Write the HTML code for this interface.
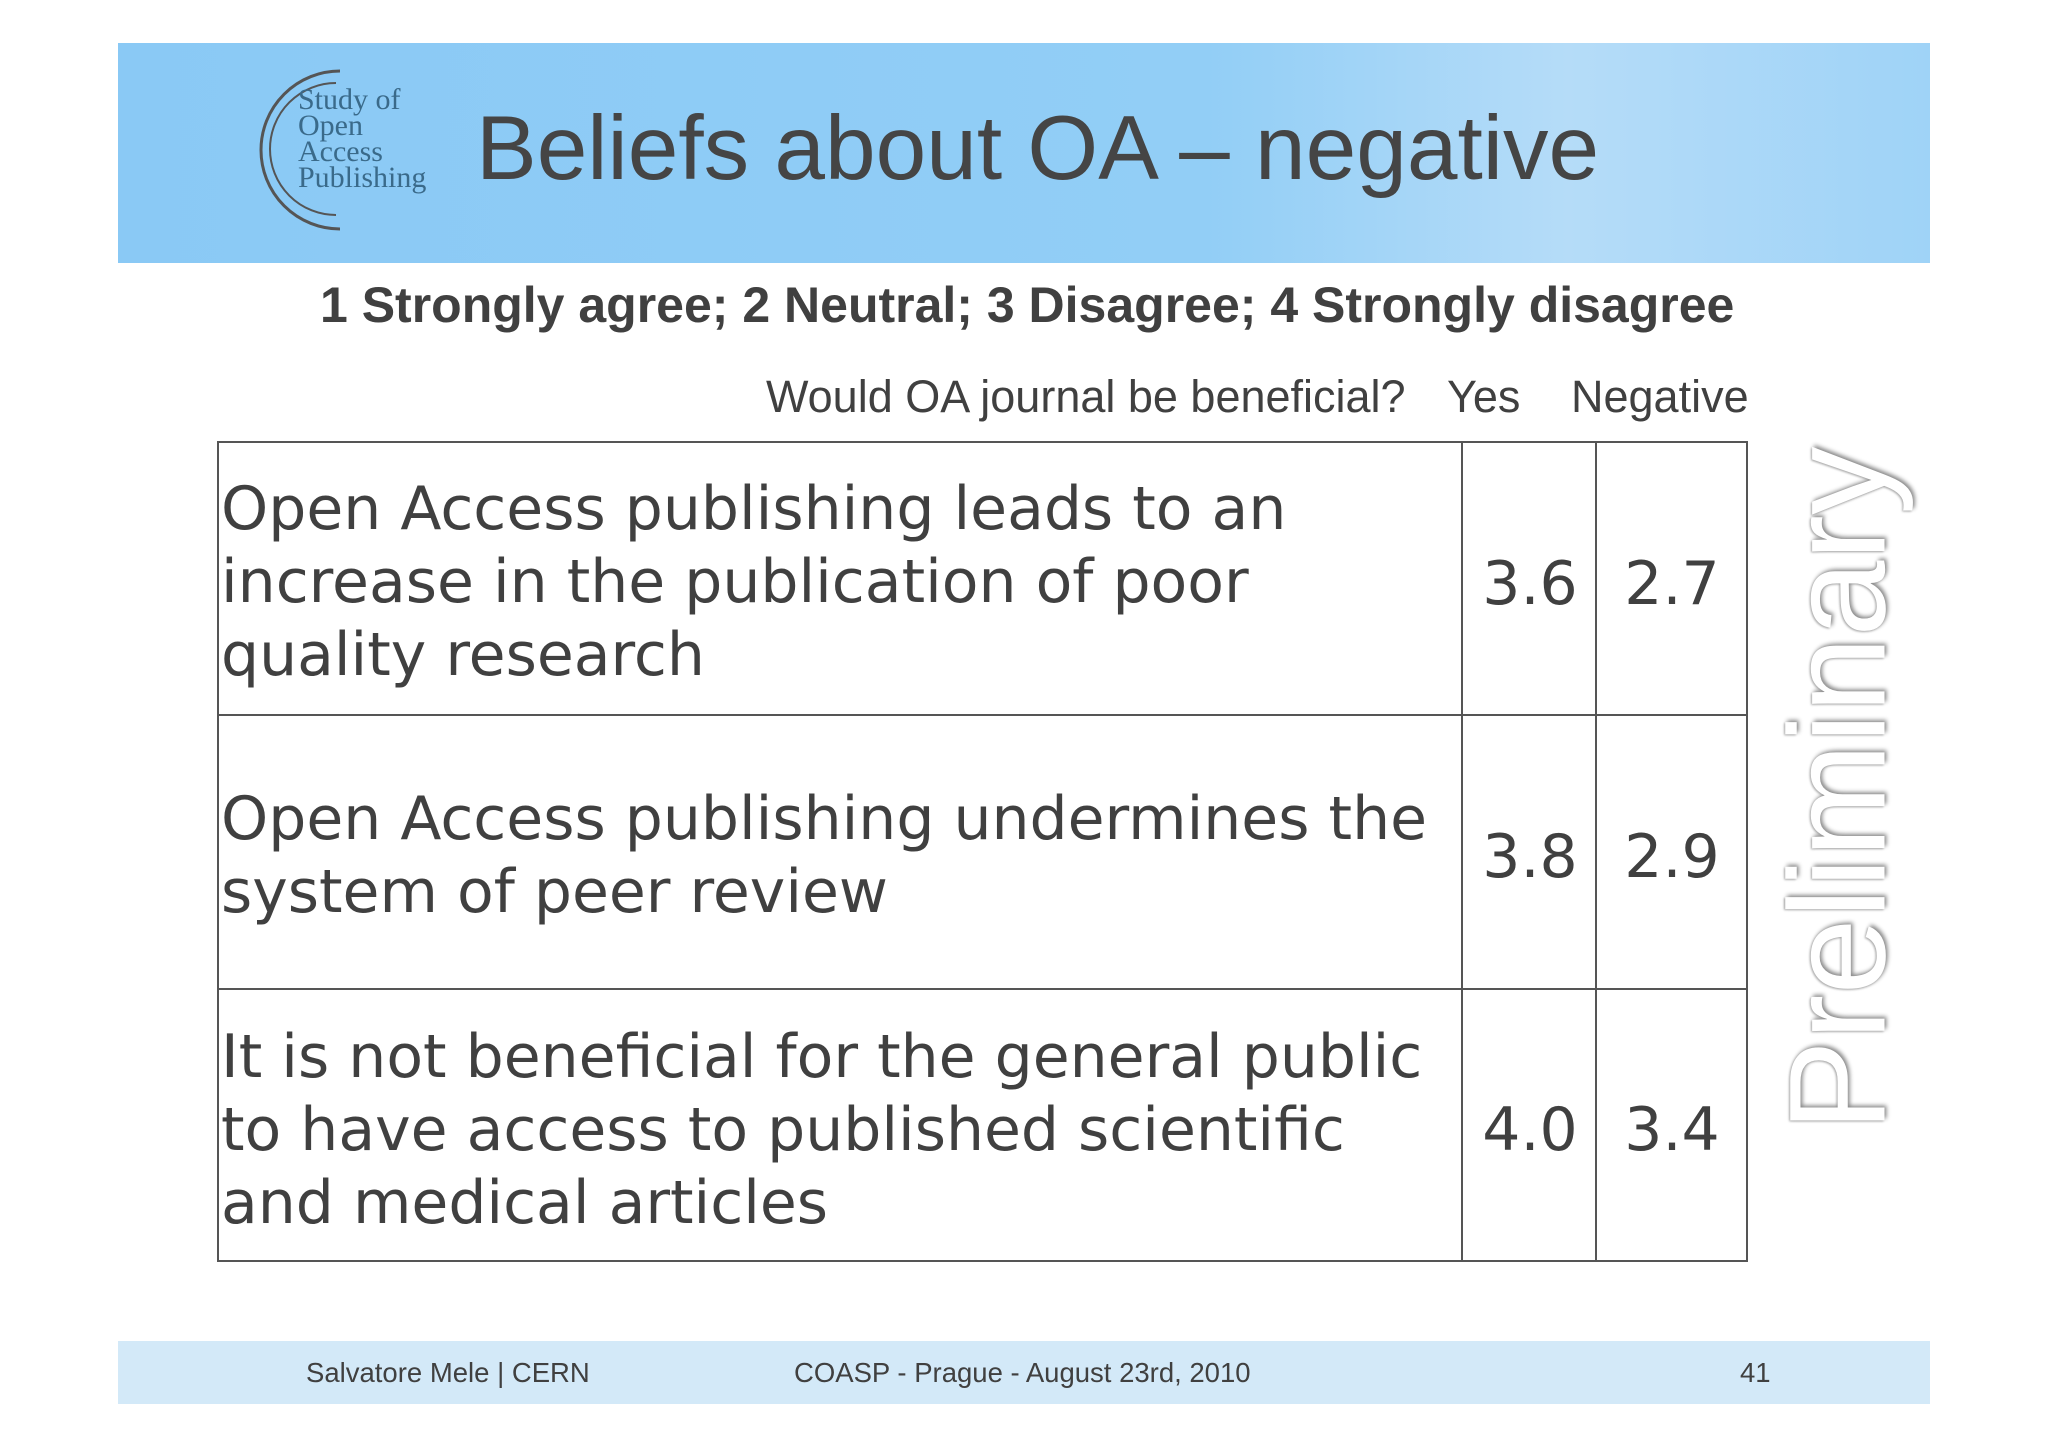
<!DOCTYPE html>
<html><head><meta charset="utf-8"><style>
body{margin:0;width:2048px;height:1447px;background:#fff;position:relative;overflow:hidden;font-family:"Liberation Sans",sans-serif;color:#404040}
div,span{position:absolute}
.cell{font-family:"DejaVu Sans",sans-serif;font-size:60px;line-height:73px;color:#404040;left:221px;white-space:nowrap}
.num{font-family:"DejaVu Sans",sans-serif;font-size:60px;color:#404040;transform:translate(-50%,-50%)}
.ln{background:#555}
</style></head><body>
<div style="left:118px;top:43px;width:1812px;height:220px;background:linear-gradient(90deg,#8ac9f5 0%,#92cef6 60%,#b5dcf8 80%,#9fd3f7 100%)"></div>
<div style="left:258px;top:65px;width:180px;height:170px">
<svg width="180" height="170"><path d="M82 6 A78 78 0 1 0 82 164" fill="none" stroke="#555" stroke-width="3"/><path d="M78 18 A66 66 0 1 0 78 150" fill="none" stroke="#555" stroke-width="2"/>
<text x="40" y="44" font-family="Liberation Serif" font-size="30" fill="#3a6a8a">Study of</text>
<text x="40" y="70" font-family="Liberation Serif" font-size="30" fill="#3a6a8a">Open</text>
<text x="40" y="96" font-family="Liberation Serif" font-size="30" fill="#3a6a8a">Access</text>
<text x="40" y="122" font-family="Liberation Serif" font-size="30" fill="#3a6a8a">Publishing</text></svg></div>
<div style="left:476px;top:97px;font-size:91px;line-height:104px;color:#454545;white-space:nowrap">Beliefs about OA – negative</div>
<div style="left:320px;top:276px;font-size:50px;font-weight:bold;color:#404040;white-space:nowrap">1 Strongly agree; 2 Neutral; 3 Disagree; 4 Strongly disagree</div>
<div style="left:766px;top:371px;font-size:45px;white-space:nowrap">Would OA journal be beneficial?</div>
<div style="left:1447px;top:371px;font-size:45px">Yes</div>
<div style="left:1571px;top:371px;font-size:45px">Negative</div>
<div style="left:217px;top:441px;width:1527px;height:817px;border:2px solid #555"></div>
<div class="ln" style="left:1461px;top:441px;width:2px;height:821px"></div>
<div class="ln" style="left:1595px;top:441px;width:2px;height:821px"></div>
<div class="ln" style="left:217px;top:714px;width:1531px;height:2px"></div>
<div class="ln" style="left:217px;top:988px;width:1531px;height:2px"></div>
<div class="cell" style="top:473px">Open Access publishing leads to an<br>increase in the publication of poor<br>quality research</div>
<div class="cell" style="top:783px">Open Access publishing undermines the<br>system of peer review</div>
<div class="cell" style="top:1021px">It is not beneficial for the general public<br>to have access to published scientific<br>and medical articles</div>
<div class="num" style="left:1530px;top:584px">3.6</div>
<div class="num" style="left:1672px;top:584px">2.7</div>
<div class="num" style="left:1530px;top:857px">3.8</div>
<div class="num" style="left:1672px;top:857px">2.9</div>
<div class="num" style="left:1530px;top:1130px">4.0</div>
<div class="num" style="left:1672px;top:1130px">3.4</div>
<div style="left:1838px;top:789px;transform:translate(-50%,-50%) rotate(-90deg);font-size:137px;color:#fff;text-shadow:2px 2px 4px #888, -1px -1px 2px #aaa;white-space:nowrap">Preliminary</div>
<div style="left:118px;top:1341px;width:1812px;height:63px;background:#d3e9f8"></div>
<div style="left:306px;top:1357px;font-size:27.5px">Salvatore Mele | CERN</div>
<div style="left:794px;top:1357px;font-size:27.5px">COASP - Prague - August 23rd, 2010</div>
<div style="left:1740px;top:1357px;font-size:27.5px">41</div>
</body></html>
